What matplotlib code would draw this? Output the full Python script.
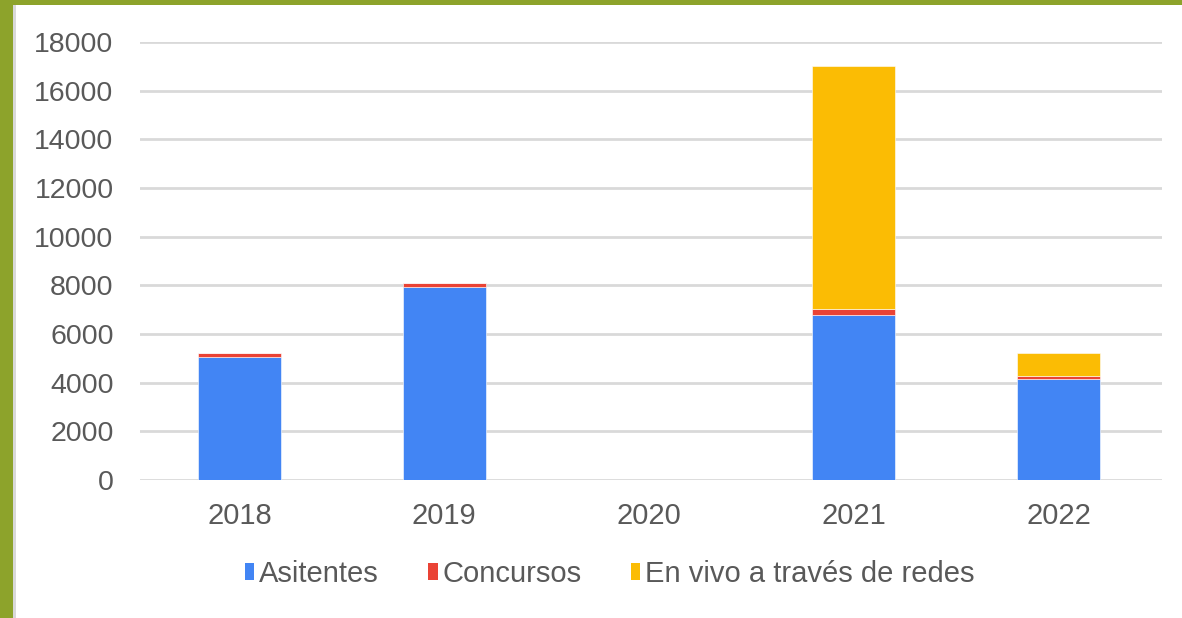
import numpy as np
import matplotlib
matplotlib.use("Agg")
import matplotlib.pyplot as plt
from matplotlib.patches import Rectangle, Patch

plt.rcParams['font.family'] = ['Liberation Sans', 'DejaVu Sans']

# datos
years = ["2018", "2019", "2020", "2021", "2022"]
asistentes = [5050, 7950, 0, 6770, 4150]
concursos = [150, 130, 0, 250, 120]
en_vivo = [0, 0, 0, 9980, 950]

series_names = ["Asitentes", "Concursos", "En vivo a través de redes"]
colors = ["#4285F4", "#EA4335", "#FBBC04"]
text_col = "#595959"


def main():
    fig = plt.figure(figsize=(11.82, 6.18), dpi=100)
    fig.patch.set_facecolor("white")

    # marco verde (arriba e izquierda)
    fig.patches.append(Rectangle((0, 0), 13 / 1182, 1, transform=fig.transFigure,
                                 facecolor="#8DA32B", edgecolor="none", zorder=0))
    fig.patches.append(Rectangle((0, 1 - 5 / 618), 1, 5 / 618, transform=fig.transFigure,
                                 facecolor="#8DA32B", edgecolor="none", zorder=0))
    fig.patches.append(Rectangle((13 / 1182, 0), 3 / 1182, 1 - 5 / 618, transform=fig.transFigure,
                                 facecolor="#D9D9D9", edgecolor="none", zorder=0))

    ax = fig.add_axes([140 / 1182, 1 - 480 / 618, 1022 / 1182, 438 / 618])
    x = np.arange(len(years))
    w = 0.405

    bottom = np.zeros(len(years))
    for vals, name, c in zip([asistentes, concursos, en_vivo], series_names, colors):
        ax.bar(x, vals, w, bottom=bottom, color=c, label=name, zorder=3,
               edgecolor="white", linewidth=0.4)
        bottom += np.array(vals)

    ax.set_xlim(-0.486, 4.505)
    ax.set_ylim(0, 18000)
    ax.set_yticks(np.arange(0, 18001, 2000))
    ax.set_xticks(x)
    ax.set_xticklabels(years)
    ax.grid(axis="y", color="#D9D9D9", linewidth=2, zorder=0)
    ax.set_axisbelow(True)
    for s in ax.spines.values():
        s.set_visible(False)
    ax.tick_params(axis="y", length=0, pad=19, labelsize=20.5, labelcolor=text_col)
    ax.tick_params(axis="x", length=0, pad=16, labelsize=21, labelcolor=text_col)

    handles = [Patch(facecolor=c, edgecolor="none") for c in colors]
    fig.legend(handles, series_names, loc="center", bbox_to_anchor=(0.516, 0.071),
               ncol=3, frameon=False, fontsize=21, labelcolor=text_col,
               handlelength=0.31, handleheight=0.52, handletextpad=0.17, columnspacing=1.7)

    fig.savefig("out.png", dpi=100)


if __name__ == "__main__":
    main()
